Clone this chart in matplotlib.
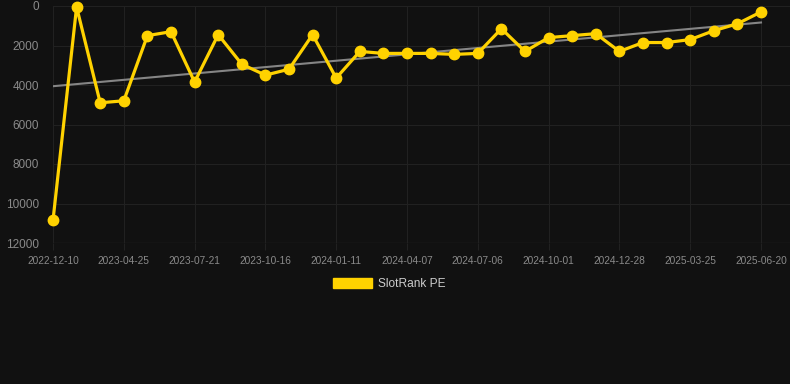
import matplotlib
matplotlib.use("Agg")
import matplotlib.pyplot as plt
import matplotlib.patches as mpatches
import numpy as np

plt.rcParams['font.family'] = ['Liberation Sans', 'DejaVu Sans']

# Categories (dates) - labelled every third point
dates = ["2022-12-10", "2023-01-25", "2023-03-10", "2023-04-25", "2023-05-24", "2023-06-22",
         "2023-07-21", "2023-08-19", "2023-09-17", "2023-10-16", "2023-11-14", "2023-12-13",
         "2024-01-11", "2024-02-09", "2024-03-09", "2024-04-07", "2024-05-07", "2024-06-06",
         "2024-07-06", "2024-08-04", "2024-09-02", "2024-10-01", "2024-10-30", "2024-11-28",
         "2024-12-28", "2025-01-26", "2025-02-24", "2025-03-25", "2025-04-23", "2025-05-22",
         "2025-06-20"]
rank = [10850, 50, 4900, 4800, 1500, 1300, 3850, 1450, 2950, 3500, 3200, 1450, 3650,
        2300, 2400, 2400, 2400, 2450, 2400, 1150, 2300, 1600, 1500, 1400, 2300, 1850,
        1850, 1700, 1250, 900, 300]
series_label = "SlotRank PE"
y_ticks = [0, 2000, 4000, 6000, 8000, 10000, 12000]

BG = "#111111"
GRID = "#212121"
YELLOW = "#FFD200"
TREND = "#858585"
TICKC = "#8a8a8a"

fig = plt.figure(figsize=(7.9, 3.84), dpi=100, facecolor=BG)
ax = fig.add_axes([53/790, 1-243/384, 1-53/790, (243-6)/384])
ax.set_facecolor(BG)

x = np.arange(len(rank))
y = np.array(rank, dtype=float)

# trend line (linear regression)
coef = np.polyfit(x, y, 1)
ax.plot([x[0], x[-1]], np.polyval(coef, [x[0], x[-1]]), color=TREND, lw=1.5, zorder=2)

ax.plot(x, y, color=YELLOW, lw=2.3, marker='o', markersize=7.5, zorder=3,
        solid_joinstyle='round', clip_on=False)

ax.set_ylim(12000, 0)
ax.set_xlim(0, (790-53)/23.6)
ax.set_yticks(y_ticks)
ax.set_yticklabels([str(v) for v in y_ticks])
tick_idx = list(range(0, len(dates), 3))
ax.set_xticks(tick_idx)
ax.set_xticklabels([dates[i] for i in tick_idx])

ax.grid(True, color=GRID, lw=0.8, zorder=0)
for s in ax.spines.values():
    s.set_visible(False)
ax.axhline(12000, color="#2a2a2a", lw=0.9, zorder=1)
ax.tick_params(axis='x', colors=GRID, length=5, width=0.8, labelcolor=TICKC, labelsize=7.3, pad=4)
ax.tick_params(axis='y', length=0, labelcolor=TICKC, labelsize=8.5, pad=10)

handle = mpatches.Patch(facecolor=YELLOW, edgecolor=YELLOW)
leg = fig.legend([handle], [series_label], loc='center', bbox_to_anchor=(389/790, 1-284/384),
                 frameon=False, handlelength=3.3, handleheight=0.95, handletextpad=0.5,
                 fontsize=8.6)
for t in leg.get_texts():
    t.set_color("#cccccc")

fig.savefig("out.png", dpi=100, facecolor=BG)
